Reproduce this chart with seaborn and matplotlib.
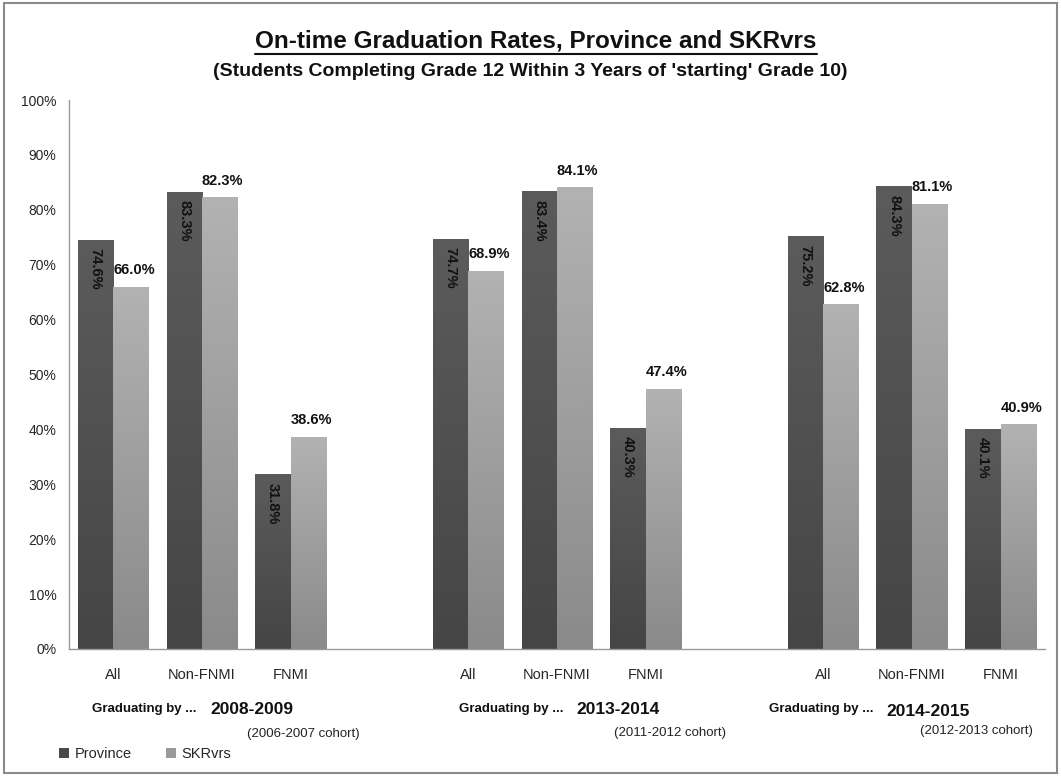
import numpy as np
import pandas as pd
import matplotlib
matplotlib.use("Agg")
import matplotlib.pyplot as plt
from matplotlib.colors import LinearSegmentedColormap
from matplotlib.patches import Rectangle, Patch
from matplotlib.lines import Line2D
import seaborn as sns

# ---- data ----
groups = ["2008-2009", "2013-2014", "2014-2015"]
cohorts = ["(2006-2007 cohort)", "(2011-2012 cohort)", "(2012-2013 cohort)"]
categories = ["All", "Non-FNMI", "FNMI"]
province = [74.6, 83.3, 31.8, 74.7, 83.4, 40.3, 75.2, 84.3, 40.1]
skrvrs = [66.0, 82.3, 38.6, 68.9, 84.1, 47.4, 62.8, 81.1, 40.9]
series = ["Province", "SKRvrs"]

# slots: 3 categories per group, blank slot between groups
slots = []
for gi in range(len(groups)):
    for c in categories:
        slots.append(f"{gi}|{c}")
    if gi < len(groups) - 1:
        slots.append(f"gap{gi}")

rows = []
k = 0
for gi in range(len(groups)):
    for c in categories:
        rows.append({"slot": f"{gi}|{c}", "series": "Province", "value": province[k]})
        rows.append({"slot": f"{gi}|{c}", "series": "SKRvrs", "value": skrvrs[k]})
        k += 1
df = pd.DataFrame(rows)

sns.set_theme(style="white")
FONT = ["Liberation Sans", "DejaVu Sans"]
plt.rcParams["font.family"] = FONT

fig = plt.figure(figsize=(10.61, 7.76), dpi=100)
ax = fig.add_axes([0.065, 0.1637, 0.92, 0.7073])

colors = {"Province": "#4c4c4c", "SKRvrs": "#9c9c9c"}
sns.barplot(data=df, x="slot", y="value", hue="series", order=slots,
            hue_order=series, palette=colors, width=0.8, ax=ax,
            errorbar=None, legend=False, saturation=1)

grad_cols = {"Province": ("#454545", "#5b5b5b"), "SKRvrs": ("#8a8a8a", "#b2b2b2")}
grad = np.linspace(0, 1, 256).reshape(-1, 1)
for cont, s in zip(ax.containers, series):
    cmap = LinearSegmentedColormap.from_list(s, list(grad_cols[s]))
    for p in cont.patches:
        h = p.get_height()
        if not np.isfinite(h) or h <= 0:
            continue
        x0, w = p.get_x(), p.get_width()
        im = ax.imshow(grad, extent=[x0, x0 + w, 0, h], origin="lower",
                       cmap=cmap, aspect="auto", zorder=p.get_zorder() + 0.1,
                       interpolation="bilinear")
        im.set_clip_path(p)
        xc = x0 + w / 2
        if s == "Province":
            ax.annotate(f"{h:.1f}%", (xc, h), xytext=(0, -6), textcoords="offset points",
                        rotation=270, ha="center", va="top", fontsize=10.5,
                        fontweight="bold", color="#111111", zorder=5)
        else:
            ax.annotate(f"{h:.1f}%", (xc, h), xytext=(2, 7), textcoords="offset points",
                        ha="center", va="bottom", fontsize=10.5,
                        fontweight="bold", color="#111111", zorder=5)

n = len(slots)
ax.set_xlim(-0.5, n - 0.5)
ax.set_ylim(0, 100)
ax.set_yticks(np.arange(0, 101, 10))
ax.set_yticklabels([f"{v}%" for v in range(0, 101, 10)], fontsize=10)
ax.set_xticks(range(n))
ax.set_xticklabels([s.split("|")[1] if "|" in s else "" for s in slots], fontsize=10.5)
ax.set_xticks(np.arange(-0.5, n, 1.0), minor=True)
ax.tick_params(axis="x", which="major", length=0, pad=14)
ax.tick_params(axis="x", which="minor", length=5, color="#999999", width=1, direction="out")
ax.tick_params(axis="y", length=5, color="#999999", width=1, direction="out", pad=4)
ax.set_xlabel("")
ax.set_ylabel("")
for side in ["top", "right"]:
    ax.spines[side].set_visible(False)
for side in ["left", "bottom"]:
    ax.spines[side].set_color("#999999")
    ax.spines[side].set_linewidth(1)

# group annotations below axis
W, H = 1061.0, 776.0
grad_x = [144, 511, 821]
year_pos = [(252, 709), (618, 709), (928, 711)]
cohort_pos = [(303, 734), (670, 733), (976, 731)]
for gi in range(len(groups)):
    fig.text(grad_x[gi] / W, 1 - 709 / H, "Graduating by ...", ha="center", va="center",
             fontsize=9.5, fontweight="bold", color="#111111")
    fig.text(year_pos[gi][0] / W, 1 - year_pos[gi][1] / H, groups[gi], ha="center",
             va="center", fontsize=12.5, fontweight="bold", color="#111111")
    fig.text(cohort_pos[gi][0] / W, 1 - cohort_pos[gi][1] / H, cohorts[gi], ha="center",
             va="center", fontsize=9.5, color="#222222")

# title with underline
t = fig.text(536 / W, 1 - 41 / H, "On-time Graduation Rates, Province and SKRvrs",
             ha="center", va="center", fontsize=17.5, fontweight="bold", color="#111111")
fig.text(530 / W, 1 - 72 / H,
         "(Students Completing Grade 12 Within 3 Years of 'starting' Grade 10)",
         ha="center", va="center", fontsize=14, fontweight="bold", color="#111111")
fig.canvas.draw()
bb = t.get_window_extent(renderer=fig.canvas.get_renderer())
uy = (bb.y0 - 1) / fig.bbox.height
fig.add_artist(Line2D([bb.x0 / fig.bbox.width, bb.x1 / fig.bbox.width], [uy, uy],
                      transform=fig.transFigure, color="#111111", lw=1.5))

# legend
handles = [Patch(facecolor="#4a4a4a", edgecolor="none"),
           Patch(facecolor="#9a9a9a", edgecolor="none")]
fig.legend(handles, series, loc="center left", bbox_to_anchor=(53 / W, 1 - 754 / H),
           ncol=2, frameon=False, fontsize=10.5, handlelength=0.7, handleheight=0.7,
           handletextpad=0.4, columnspacing=2.3, borderaxespad=0)

# outer frame
fig.add_artist(Rectangle((4 / W, 3 / H), 1 - 8 / W, 1 - 6 / H, transform=fig.transFigure,
                         fill=False, edgecolor="#8a8a8a", lw=1.5))

fig.savefig("out.png", dpi=100)
